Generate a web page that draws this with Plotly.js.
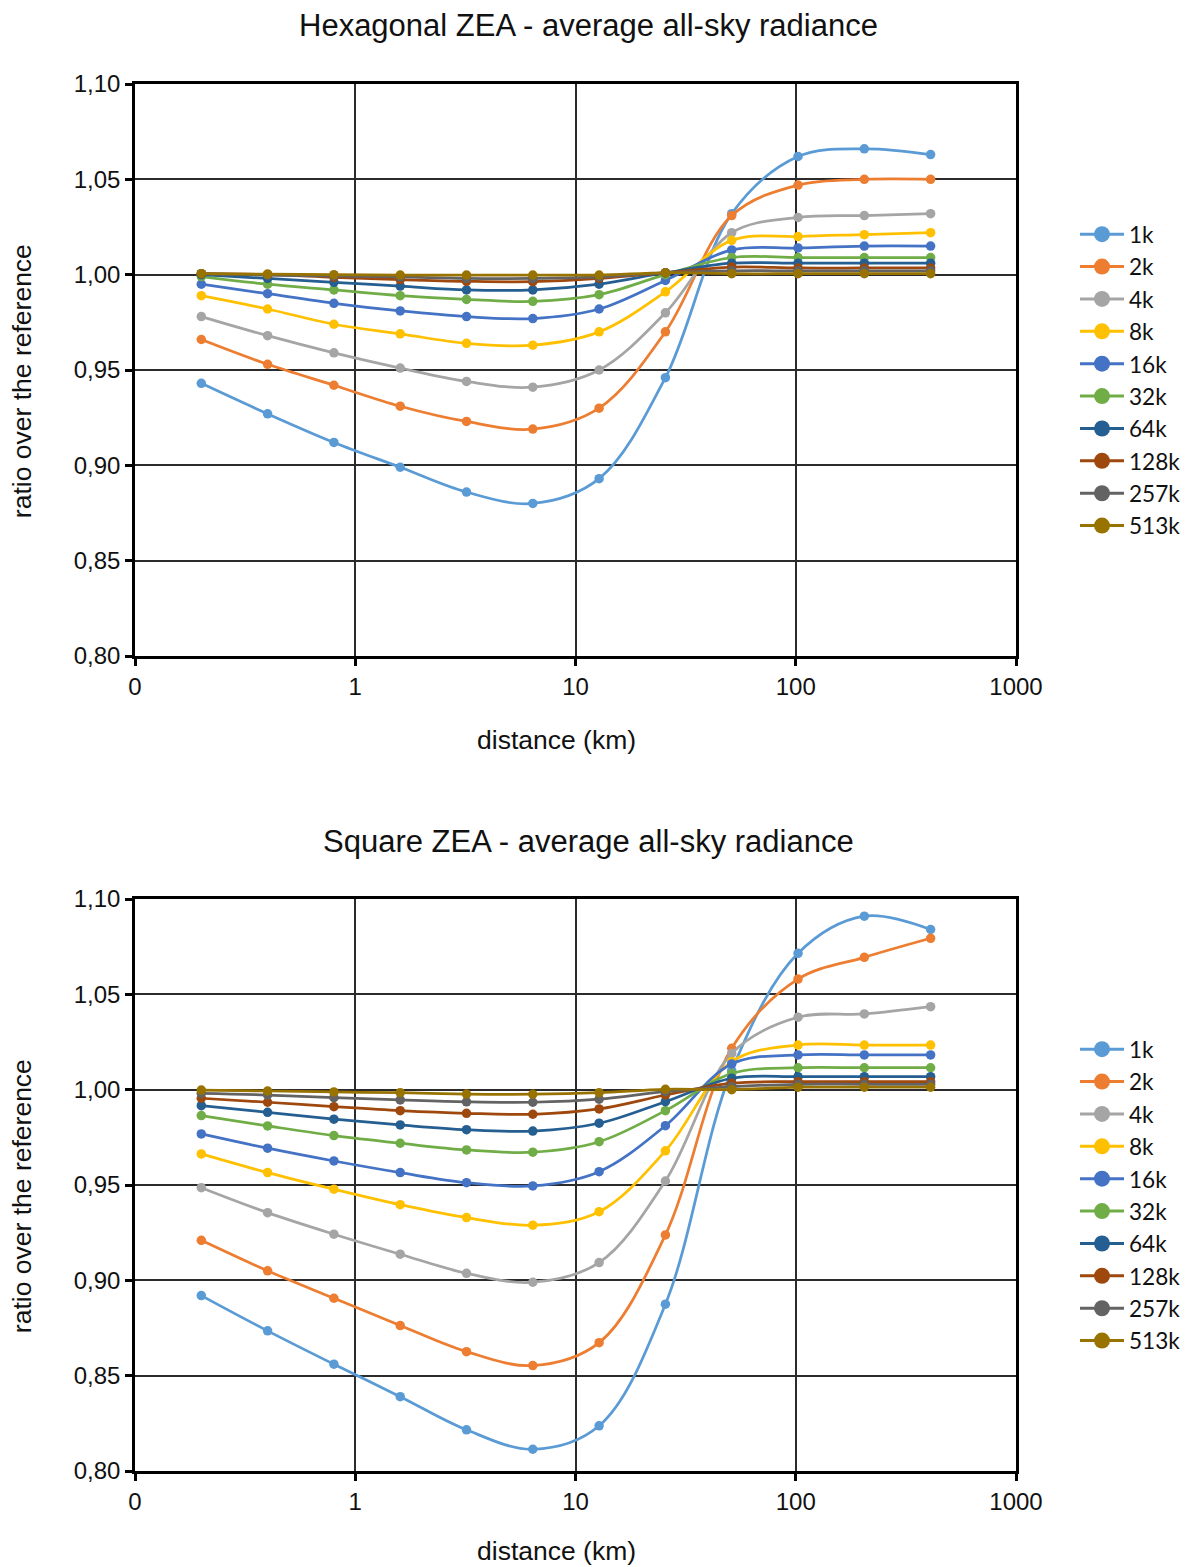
<!DOCTYPE html>
<html>
<head>
<meta charset="utf-8">
<script src="https://cdn.plot.ly/plotly-3.0.1.min.js"></script>
<style>
  html, body { margin: 0; padding: 0; background: #ffffff; }
  #chart { width: 1197px; height: 1567px; }
</style>
</head>
<body>
<div id="chart"></div>
<script>
// Distances (km) at which the ratios were sampled
const distances = [0.2, 0.4, 0.8, 1.6, 3.2, 6.4, 12.8, 25.6, 51.2, 102.4, 204.8, 409.6];

// Series names (number of pixels)
const seriesNames = ["1k", "2k", "4k", "8k", "16k", "32k", "64k", "128k", "257k", "513k"];

// Hexagonal ZEA - ratio over the reference
const hex1k   = [0.943, 0.927, 0.912, 0.899, 0.886, 0.880, 0.893, 0.946, 1.032, 1.062, 1.066, 1.063];
const hex2k   = [0.966, 0.953, 0.942, 0.931, 0.923, 0.919, 0.930, 0.970, 1.031, 1.047, 1.050, 1.050];
const hex4k   = [0.978, 0.968, 0.959, 0.951, 0.944, 0.941, 0.950, 0.980, 1.022, 1.030, 1.031, 1.032];
const hex8k   = [0.989, 0.982, 0.974, 0.969, 0.964, 0.963, 0.970, 0.991, 1.018, 1.020, 1.021, 1.022];
const hex16k  = [0.995, 0.990, 0.985, 0.981, 0.978, 0.977, 0.982, 0.997, 1.013, 1.014, 1.015, 1.015];
const hex32k  = [0.999, 0.995, 0.992, 0.989, 0.987, 0.986, 0.9895, 1.000, 1.009, 1.009, 1.009, 1.009];
const hex64k  = [1.000, 0.998, 0.996, 0.994, 0.992, 0.992, 0.995, 1.001, 1.006, 1.006, 1.006, 1.006];
const hex128k = [1.0005, 1.000, 0.9986, 0.9974, 0.9965, 0.9963, 0.998, 1.001, 1.004, 1.0035, 1.0035, 1.0035];
const hex257k = [1.0005, 0.9998, 0.9993, 0.9988, 0.998, 0.998, 0.9988, 1.001, 1.002, 1.002, 1.002, 1.002];
const hex513k = [1.0005, 1.0003, 1.000, 0.9998, 0.9998, 0.9998, 0.9998, 1.001, 1.0005, 1.0005, 1.0005, 1.0005];

// Square ZEA - ratio over the reference
const sq1k   = [0.892, 0.8735, 0.856, 0.839, 0.8216, 0.8114, 0.8237, 0.8875, 1.010, 1.0715, 1.091, 1.084];
const sq2k   = [0.921, 0.905, 0.8906, 0.8763, 0.8626, 0.8553, 0.8673, 0.9238, 1.0217, 1.058, 1.0694, 1.0794];
const sq4k   = [0.9486, 0.9355, 0.9242, 0.9137, 0.9037, 0.899, 0.9093, 0.9521, 1.019, 1.038, 1.0397, 1.0435];
const sq8k   = [0.9663, 0.9565, 0.9478, 0.9397, 0.9329, 0.9289, 0.936, 0.9679, 1.0147, 1.0234, 1.0234, 1.0234];
const sq16k  = [0.9768, 0.9693, 0.9626, 0.9565, 0.9512, 0.9495, 0.957, 0.9811, 1.0135, 1.0182, 1.0182, 1.0182];
const sq32k  = [0.9864, 0.981, 0.9759, 0.9719, 0.9684, 0.9672, 0.9727, 0.989, 1.0085, 1.0115, 1.0115, 1.0115];
const sq64k  = [0.9916, 0.9881, 0.9845, 0.9815, 0.979, 0.9783, 0.9824, 0.9937, 1.006, 1.0068, 1.0068, 1.0068];
const sq128k = [0.9955, 0.9934, 0.9911, 0.989, 0.9876, 0.9871, 0.9899, 0.9972, 1.0034, 1.0042, 1.0042, 1.0042];
const sq257k = [0.9981, 0.9972, 0.9958, 0.9946, 0.9936, 0.9934, 0.995, 0.999, 1.0016, 1.0028, 1.0028, 1.0028];
const sq513k = [0.9998, 0.9993, 0.9988, 0.9984, 0.9977, 0.9976, 0.9984, 1.0002, 1.000, 1.0013, 1.0013, 1.0013];

// Axis ticks
const xTickVals = [0.1, 1, 10, 100, 1000];
const xTickText = ["0", "1", "10", "100", "1000"];
const yTickVals = [0.80, 0.85, 0.90, 0.95, 1.00, 1.05, 1.10];
const yTickText = ["0,80", "0,85", "0,90", "0,95", "1,00", "1,05", "1,10"];

// Chart texts
const topTitle = "Hexagonal ZEA - average all-sky radiance";
const bottomTitle = "Square ZEA - average all-sky radiance";
const xTitle = "distance (km)";
const yTitle = "ratio over the reference";

const colors = ["#5B9BD5", "#ED7D31", "#A5A5A5", "#FFC000", "#4472C4",
                "#70AD47", "#255E91", "#9E480E", "#636363", "#997300"];

const hexSeries = [hex1k, hex2k, hex4k, hex8k, hex16k, hex32k, hex64k, hex128k, hex257k, hex513k];
const sqSeries  = [sq1k, sq2k, sq4k, sq8k, sq16k, sq32k, sq64k, sq128k, sq257k, sq513k];

const tickFont = { family: "Liberation Sans, Arial, sans-serif", size: 24, color: "#111" };
const titleFont = { family: "Liberation Sans, Arial, sans-serif", size: 31, color: "#111" };
const axisTitleFont = { family: "Liberation Sans, Arial, sans-serif", size: 26.5, color: "#111" };
const legendFont = { family: "Lato, Open Sans, sans-serif", size: 22.6, color: "#111" };

const traces = [];

function addPanel(series, xa, ya, legendId) {
  series.forEach((vals, i) => {
    traces.push({
      type: "scatter",
      mode: "lines+markers",
      x: distances,
      y: vals,
      xaxis: xa,
      yaxis: ya,
      name: seriesNames[i],
      showlegend: false,
      line: { color: colors[i], width: 2.75, shape: "spline", smoothing: 1 },
      marker: { color: colors[i], size: 9.5 },
      hoverinfo: "skip"
    });
  });
  // legend entries with a larger symbol
  series.forEach((vals, i) => {
    traces.push({
      type: "scatter",
      mode: "lines+markers",
      x: [null],
      y: [null],
      xaxis: xa,
      yaxis: ya,
      name: seriesNames[i],
      legend: legendId,
      showlegend: true,
      line: { color: colors[i], width: 3 },
      marker: { color: colors[i], size: 16 },
      hoverinfo: "skip"
    });
  });
}

addPanel(hexSeries, "x", "y", "legend");
addPanel(sqSeries, "x2", "y2", "legend2");

const W = 1197, H = 1567;
const mL = 135, mR = 180, mT = 84, mB = 96;
const plotW = W - mL - mR;
const plotH = H - mT - mB;
const px = x => (x - mL) / plotW;
const py = y => (H - mB - y) / plotH;

function xAxis(anchor) {
  return {
    type: "log",
    range: [-1, 3],
    domain: [0, 1],
    anchor: anchor,
    tickvals: xTickVals,
    ticktext: xTickText,
    tickfont: tickFont,
    ticks: "outside",
    ticklen: 7,
    tickwidth: 2.5,
    tickcolor: "#000",
    showline: true,
    linecolor: "#000",
    linewidth: 2.5,
    mirror: true,
    showgrid: true,
    gridcolor: "#2b2b2b",
    gridwidth: 1.5,
    zeroline: false,
    fixedrange: true
  };
}

function yAxis(anchor, domain) {
  return {
    range: [0.80, 1.10],
    domain: domain,
    anchor: anchor,
    tickvals: yTickVals,
    ticktext: yTickText,
    tickfont: tickFont,
    ticks: "outside",
    ticklen: 7,
    tickwidth: 2.5,
    tickcolor: "#000",
    showline: true,
    linecolor: "#000",
    linewidth: 2.5,
    mirror: true,
    showgrid: true,
    gridcolor: "#2b2b2b",
    gridwidth: 1.5,
    zeroline: false,
    fixedrange: true
  };
}

function legendAt(topY) {
  return {
    x: px(1075),
    y: py(topY),
    xanchor: "left",
    yanchor: "top",
    orientation: "v",
    itemwidth: 44,
    font: legendFont,
    bgcolor: "rgba(0,0,0,0)",
    borderwidth: 0,
    tracegroupgap: 0,
    itemclick: false,
    itemdoubleclick: false
  };
}

const layout = {
  width: W,
  height: H,
  margin: { l: mL, r: mR, t: mT, b: mB, pad: 0 },
  paper_bgcolor: "#ffffff",
  plot_bgcolor: "#ffffff",
  xaxis: xAxis("y"),
  yaxis: yAxis("x", [py(656), 1]),
  xaxis2: xAxis("y2"),
  yaxis2: yAxis("x2", [0, py(899)]),
  legend: legendAt(213),
  legend2: legendAt(1028),
  annotations: [
    { text: topTitle, x: px(589), y: py(26), xref: "paper", yref: "paper",
      xanchor: "center", yanchor: "middle", showarrow: false, font: titleFont },
    { text: bottomTitle, x: px(589), y: py(841), xref: "paper", yref: "paper",
      xanchor: "center", yanchor: "middle", showarrow: false, font: titleFont },
    { text: xTitle, x: px(557), y: py(740), xref: "paper", yref: "paper",
      xanchor: "center", yanchor: "middle", showarrow: false, font: axisTitleFont },
    { text: xTitle, x: px(557), y: py(1551), xref: "paper", yref: "paper",
      xanchor: "center", yanchor: "middle", showarrow: false, font: axisTitleFont },
    { text: yTitle, x: px(22), y: py(381), xref: "paper", yref: "paper", textangle: -90,
      xanchor: "center", yanchor: "middle", showarrow: false, font: axisTitleFont },
    { text: yTitle, x: px(22), y: py(1196), xref: "paper", yref: "paper", textangle: -90,
      xanchor: "center", yanchor: "middle", showarrow: false, font: axisTitleFont }
  ]
};

Plotly.newPlot("chart", traces, layout, { displayModeBar: false, responsive: false });
</script>
</body>
</html>
